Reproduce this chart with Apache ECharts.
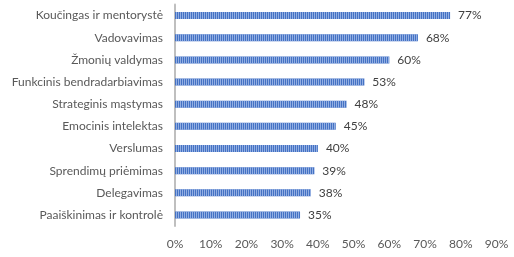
<!DOCTYPE html>
<html><head><meta charset="utf-8">
<script src="https://cdn.jsdelivr.net/npm/echarts@6/dist/echarts.min.js"></script>
<style>html,body{margin:0;padding:0;background:#fff}#c{width:514px;height:257px}</style>
</head><body><div id="c"></div>
<script>
const categories = ["Koučingas ir mentorystė","Vadovavimas","Žmonių valdymas","Funkcinis bendradarbiavimas","Strateginis mąstymas","Emocinis intelektas","Verslumas","Sprendimų priėmimas","Delegavimas","Paaiškinimas ir kontrolė"];
const values = [77,68,60,53,48,45,40,39,38,35];
const xTicks = [0,10,20,30,40,50,60,70,80,90];

const chart = echarts.init(document.getElementById('c'), null, {renderer:'canvas'});
const font = 'Lato, "Open Sans", sans-serif';
chart.setOption({
  animation:false,
  grid:{left:175, right:17.5, top:4.5, bottom:31, containLabel:false},
  xAxis:{type:'value', min:xTicks[0], max:xTicks[xTicks.length-1], interval:10,
    axisLine:{show:false}, axisTick:{show:false}, splitLine:{show:false},
    axisLabel:{formatter:'{value}%', color:'#595959', fontSize:12, fontFamily:font, margin:12}},
  yAxis:{type:'category', data:categories, inverse:true,
    axisLine:{show:true, lineStyle:{color:'#bfbfbf', width:2}}, axisTick:{show:false},
    axisLabel:{color:'#595959', fontSize:12, fontFamily:font, margin:12}},
  series:[{type:'bar', data:values, barWidth:7,
    itemStyle:{color:'#4472C4',
      decal:{symbol:'rect', symbolSize:1, dashArrayX:[1,1], dashArrayY:[20,0], color:'rgba(180,200,240,0.7)', rotation:0}},
    label:{show:true, position:'right', distance:8, formatter:'{c}%', color:'#404040', fontSize:12, fontFamily:font}}]
});
</script></body></html>
